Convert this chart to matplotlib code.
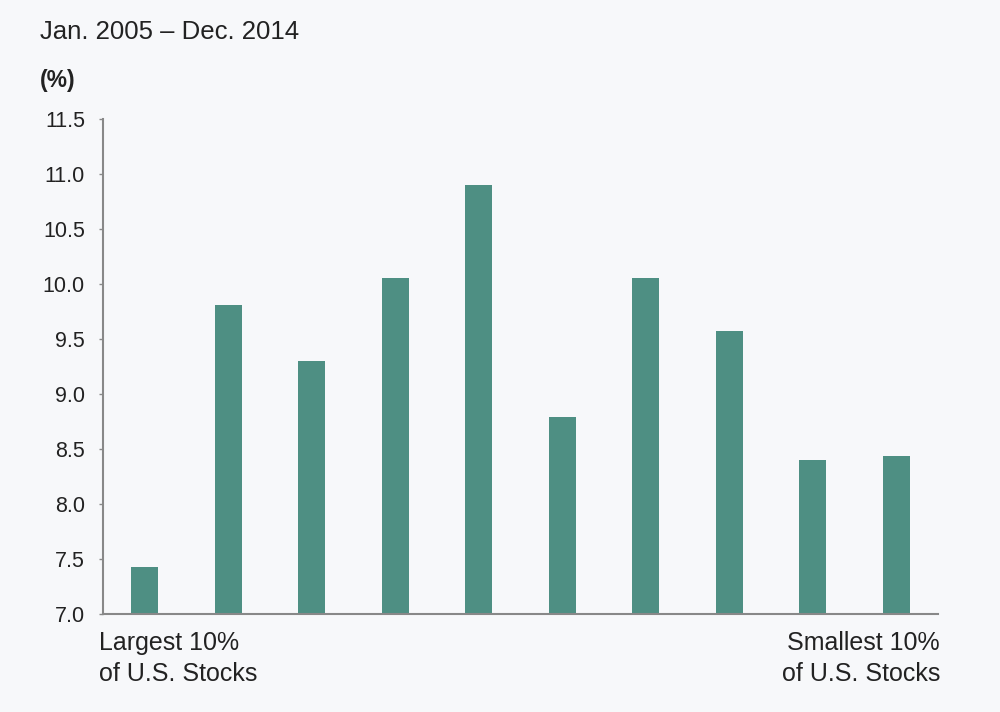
import numpy as np
import matplotlib.pyplot as plt

plt.rcParams['font.family'] = ['Liberation Sans', 'DejaVu Sans']

# annualized returns by size decile, largest -> smallest
deciles = np.arange(10)
returns = [7.43, 9.81, 9.30, 10.05, 10.90, 8.79, 10.05, 9.57, 8.40, 8.44]
yticks = [7.0, 7.5, 8.0, 8.5, 9.0, 9.5, 10.0, 10.5, 11.0, 11.5]
period = "Jan. 2005 \u2013 Dec. 2014"
left_label = "Largest 10%\nof U.S. Stocks"
right_label = "Smallest 10%\nof U.S. Stocks"

bg = '#f7f8fa'
fig = plt.figure(figsize=(10, 7.12), dpi=100, facecolor=bg)
ax = fig.add_axes([0.103, 0.1376, 0.835, 0.6953])
ax.set_facecolor(bg)

ax.bar(deciles, [r - 7.0 for r in returns], bottom=7.0, width=0.32, color='#4e8f83')

ax.set_xlim(-0.5, 9.5)
ax.set_ylim(7.0, 11.5)
ax.set_yticks(yticks)
ax.set_yticklabels(['%.1f' % v for v in yticks], fontsize=15.5, color='#222222')
ax.set_xticks([])
ax.tick_params(axis='y', length=3, width=1, color='#888888', pad=10)

for s in ['top', 'right']:
    ax.spines[s].set_visible(False)
for s in ['left', 'bottom']:
    ax.spines[s].set_color('#888888')
    ax.spines[s].set_linewidth(1.5)

fig.text(0.040, 0.955, period, fontsize=18.5, color='#222222', va='center', ha='left')
fig.text(0.040, 0.887, "(%)", fontsize=16.5, fontweight='bold', color='#222222', va='center', ha='left')
fig.text(0.099, 0.114, left_label, fontsize=18, color='#222222', va='top', ha='left', linespacing=1.4)
fig.text(0.940, 0.114, right_label, fontsize=18, color='#222222', va='top', ha='right',
         multialignment='right', linespacing=1.4)

fig.savefig('out.png', dpi=100, facecolor=bg)
